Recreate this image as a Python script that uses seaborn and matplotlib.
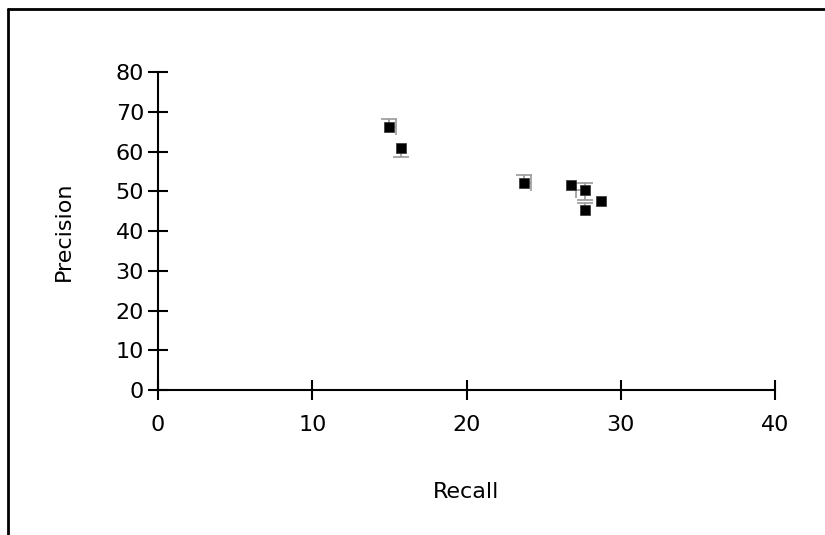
import numpy as np
import pandas as pd
import matplotlib
matplotlib.use("Agg")
import matplotlib.pyplot as plt
from matplotlib.lines import Line2D
import seaborn as sns

sns.set_theme(style="white")
plt.rcParams["font.family"] = ["DejaVu Sans"]

# Values
recall = [15.0, 15.75, 23.7, 26.8, 27.7, 27.7, 28.7]
precision = [66.2, 60.9, 52.1, 51.6, 50.3, 45.3, 47.5]
# one-sided error bars (only the visible ones)
x_err_left = [0, 0, 0, 0, 0.6, 0, 0]
x_err_right = [0.45, 0, 0.5, 0, 0, 0, 0]
y_err_down = [0, 2.3, 0, 0, 2.5, 0, 0]
y_err_up = [2.0, 0, 2.0, 0, 1.8, 1.7, 0]

x_ticks = [0, 10, 20, 30, 40]
y_ticks = [0, 10, 20, 30, 40, 50, 60, 70, 80]

data = pd.DataFrame({"Recall": recall, "Precision": precision})

fig = plt.figure(figsize=(8.25, 5.35), dpi=100)
ax = fig.add_axes([0.1915, 0.271, 0.748, 0.594])

# error bars: stems and caps, drawn only where an error exists
grey = "#9a9a9a"
x = np.array(recall)
y = np.array(precision)
for err, sign in ((np.array(y_err_up), 1), (np.array(y_err_down), -1)):
    m = err > 0
    ends = y[m] + sign * err[m]
    ax.vlines(x[m], y[m], ends, color=grey, lw=1.2, zorder=2)
    ax.plot(x[m], ends, ls="none", marker="_", ms=11, mew=1.2, color=grey, zorder=2)
for err, sign in ((np.array(x_err_right), 1), (np.array(x_err_left), -1)):
    m = err > 0
    ends = x[m] + sign * err[m]
    ax.hlines(y[m], x[m], ends, color=grey, lw=1.2, zorder=2)
    ax.plot(ends, y[m], ls="none", marker="|", ms=11, mew=1.2, color=grey, zorder=2)

sns.scatterplot(data=data, x="Recall", y="Precision", marker="s", s=62,
                color="black", edgecolor="#333333", linewidth=0.5, ax=ax, zorder=3)

ax.set_xlim(0, 40)
ax.set_ylim(0, 80)
ax.set_xticks(x_ticks)
ax.set_yticks(y_ticks)
sns.despine(ax=ax)
for side in ("left", "bottom"):
    ax.spines[side].set_linewidth(1.5)
    ax.spines[side].set_color("black")
ax.tick_params(axis="both", which="major", direction="inout", length=14, width=1.5,
               color="black", labelsize=16, labelcolor="black",
               bottom=True, left=True)
ax.tick_params(axis="x", pad=11)
ax.tick_params(axis="y", pad=3)
ax.set_xlabel("Recall", fontsize=16, labelpad=34, color="black")
ax.set_ylabel("Precision", fontsize=16, labelpad=30, color="black")

# frame left over from the original page
fig.add_artist(Line2D([0.0095, 0.0095], [0.0, 0.983], color="black", lw=2))
fig.add_artist(Line2D([0.0095, 1.0], [0.983, 0.983], color="black", lw=2))

fig.savefig("out.png", dpi=100)
